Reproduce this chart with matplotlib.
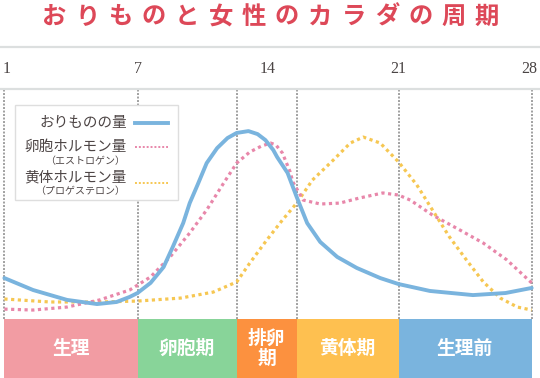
import matplotlib
matplotlib.use('Agg')
import matplotlib.pyplot as plt
from matplotlib.lines import Line2D
from matplotlib.patches import Rectangle

plt.rcParams['font.family'] = ['Noto Sans CJK JP', 'DejaVu Sans']

# x: week position (0 = day 1, 1 = day 7, 2 = day 14, 3 = day 21, 4 = day 28)
# y: relative level (0-100)
tick_pos = [0, 1, 2, 3, 4]
tick_labels = ['1', '7', '14', '21', '28']

# おりもの量
discharge_x = [-0.02, 0.20, 0.46, 0.69, 0.84, 0.94, 1.00, 1.10, 1.20, 1.27,
               1.35, 1.40, 1.46, 1.53, 1.61, 1.69, 1.76, 1.85, 1.92, 1.98,
               2.04, 2.07, 2.15, 2.22, 2.30, 2.40, 2.53, 2.68, 2.86, 3.00,
               3.24, 3.57, 3.82, 4.02]
discharge_y = [17.8, 12.6, 8.3, 6.5, 7.4, 9.6, 11.3, 15.7, 22.6, 31.3,
               41.7, 50.4, 58.3, 67.8, 74.3, 78.7, 80.9, 81.7, 80.4, 77.8,
               73.5, 70.4, 63.5, 53.0, 41.7, 33.5, 27.0, 22.2, 17.8, 15.2,
               12.2, 10.4, 11.3, 13.5]

# 卵胞ホルモン量（エストロゲン）
estrogen_x = [-0.02, 0.20, 0.46, 0.71, 0.94, 1.10, 1.25, 1.40, 1.53, 1.66,
              1.76, 1.86, 1.95, 2.02, 2.06, 2.11, 2.17, 2.19, 2.27, 2.40,
              2.55, 2.70, 2.88, 3.00, 3.09, 3.26, 3.47, 3.65, 3.83, 4.02]
estrogen_y = [4.3, 3.9, 5.2, 8.3, 12.6, 18.3, 27.0, 37.4, 47.4, 59.1,
              67.8, 72.6, 75.2, 76.5, 75.7, 72.2, 63.9, 59.6, 51.7, 50.0,
              50.4, 52.6, 54.8, 53.9, 51.7, 45.2, 38.7, 33.0, 25.7, 15.7]

# 黄体ホルモン量（プロゲステロン）
progesterone_x = [-0.02, 0.33, 0.71, 1.00, 1.33, 1.58, 1.76, 1.86, 1.99, 2.11,
                  2.22, 2.34, 2.50, 2.63, 2.73, 2.86, 3.00, 3.14, 3.26, 3.39,
                  3.52, 3.65, 3.78, 3.91, 4.02]
progesterone_y = [8.7, 7.4, 7.4, 7.8, 9.1, 11.7, 16.1, 24.3, 34.3, 43.0,
                  50.4, 60.4, 69.1, 76.5, 79.1, 76.5, 68.3, 58.3, 47.4, 35.7,
                  25.7, 16.1, 9.1, 5.2, 3.9]

# phases
phase_edges = [-0.02, 1.0, 1.76, 2.22, 3.0, 4.02]
phase_names = ['生理', '卵胞期', '排卵\n期', '黄体期', '生理前']
phase_colors = ['#f29ca3', '#88d499', '#fc913f', '#fec050', '#7ab4de']

c_blue = '#7ab4de'
c_pink = '#e887aa'
c_yellow = '#f6c752'
c_text = '#4d4545'

fig = plt.figure(figsize=(5.4, 3.78), dpi=100)
ax = fig.add_axes([0, 0, 1, 1])
ax.set_xlim(-0.0536, 4.084)
ax.set_ylim(-25.65, 138.7)
ax.axis('off')

# header lines + day labels
ax.axhline(118.3, color='#dcdfdf', lw=1.6)
ax.axhline(100.0, color='#dcdfdf', lw=1.6)
for p, lab in zip(tick_pos, tick_labels):
    ax.text(p, 108.7, lab, ha='center', va='center', fontsize=11.5,
            family='Liberation Serif', color='#4a4444')

# phase dividers
ax.vlines(phase_edges, 0, 100, colors='#a0a0a0', linestyles=(0, (1, 0.8)),
          lw=1.4, zorder=1)

# curves
ax.plot(progesterone_x, progesterone_y, color=c_yellow, lw=2.3,
        linestyle=(0, (1, 1.1)), zorder=3)
ax.plot(estrogen_x, estrogen_y, color=c_pink, lw=2.3,
        linestyle=(0, (1, 1.1)), zorder=3)
ax.plot(discharge_x, discharge_y, color=c_blue, lw=2.8,
        solid_capstyle='round', solid_joinstyle='round', zorder=4)

# phase bands
widths = [b - a for a, b in zip(phase_edges[:-1], phase_edges[1:])]
ax.bar(phase_edges[:-1], 25.65, width=widths, bottom=-25.65, align='edge',
       color=phase_colors, edgecolor='none', zorder=5)
for a, w, name in zip(phase_edges[:-1], widths, phase_names):
    ax.text(a + w / 2, -12.8, name, ha='center', va='center', color='white',
            fontsize=13.5, fontweight='bold', linespacing=1.1, zorder=6)

# title, one glyph at a time for the wide letter spacing
title = 'おりものと女性のカラダの周期'
for i, ch in enumerate(title):
    fig.text((54 + i * 33.3) / 540, 1 - 17 / 378, ch, ha='center', va='center',
             fontsize=17.5, fontweight='bold', color='#dd4858')

# legend box
def fx(px):
    return px / 540

def fy(py):
    return 1 - py / 378

fig.patches.append(Rectangle((fx(15), fy(200)), fx(178) - fx(15), fy(105) - fy(200),
                             transform=fig.transFigure, facecolor='white',
                             edgecolor='#dedede', lw=1.0, zorder=10))
rows = [
    ('おりものの量', 123, None, None, 123, c_blue, '-'),
    ('卵胞ホルモン量', 147, '（エストロゲン）', 161, 147, c_pink, ':'),
    ('黄体ホルモン量', 177, '（プロゲステロン）', 191, 183, c_yellow, ':'),
]
for main, y1, sub, y2, ly, col, ls in rows:
    fig.text(fx(127), fy(y1), main, ha='right', va='center', fontsize=10.5,
             color=c_text, zorder=11)
    if sub:
        fig.text(fx(125), fy(y2), sub, ha='right', va='center', fontsize=7.2,
                 color=c_text, zorder=11)
    if ls == '-':
        line = Line2D([fx(135), fx(168)], [fy(ly), fy(ly)], color=col, lw=2.8,
                      transform=fig.transFigure, zorder=11)
    else:
        line = Line2D([fx(135), fx(168)], [fy(ly), fy(ly)], color=col, lw=1.4,
                      linestyle=(0, (1, 1)), transform=fig.transFigure, zorder=11)
    fig.lines.append(line)

fig.savefig('out.png', dpi=100)
